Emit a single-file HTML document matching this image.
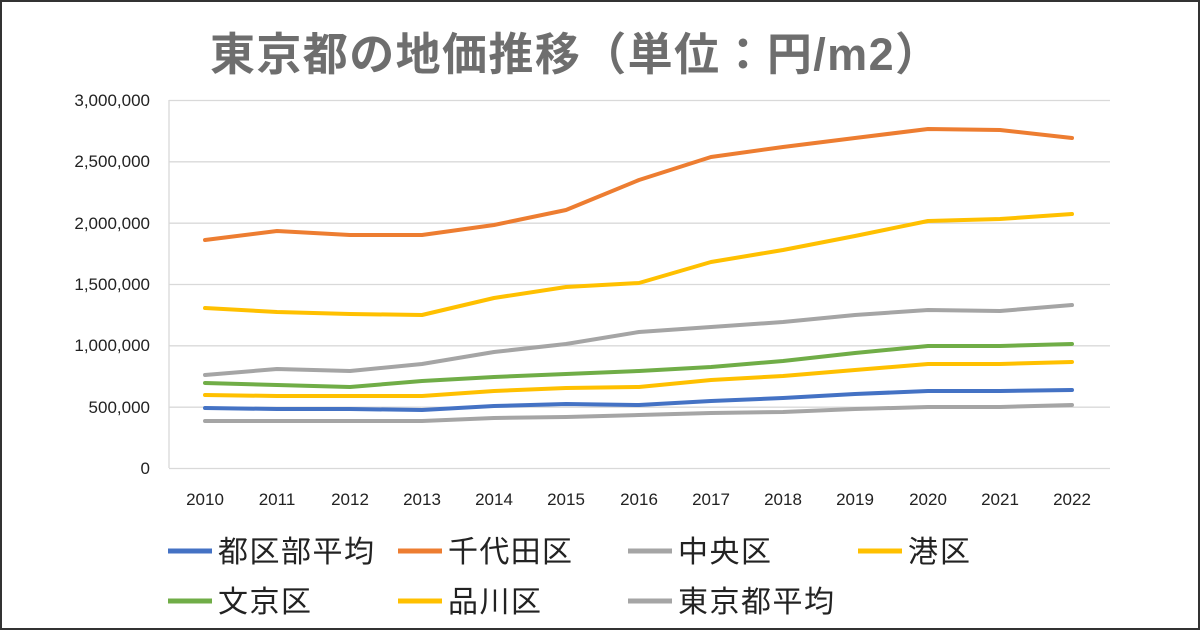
<!DOCTYPE html>
<html><head><meta charset="utf-8"><style>
body{margin:0;width:1200px;height:630px;background:#fff;overflow:hidden}
svg text{font-family:"Liberation Sans","Noto Sans CJK JP",sans-serif}
</style></head><body>
<svg width="1200" height="630" viewBox="0 0 1200 630">
<rect x="1" y="1" width="1198" height="628" fill="#fff" stroke="#333" stroke-width="2"/>
<text x="210" y="70" font-size="45" font-weight="bold" fill="#6e6e6e" textLength="730" lengthAdjust="spacing">東京都の地価推移（単位：円/m2）</text>
<g stroke="#d9d9d9" stroke-width="1.3">
<line x1="169" x2="1110" y1="100.5" y2="100.5"/><line x1="169" x2="1110" y1="161.8" y2="161.8"/>
<line x1="169" x2="1110" y1="223.2" y2="223.2"/><line x1="169" x2="1110" y1="284.5" y2="284.5"/>
<line x1="169" x2="1110" y1="345.8" y2="345.8"/><line x1="169" x2="1110" y1="407.2" y2="407.2"/>
<line x1="169" x2="1110" y1="468.5" y2="468.5"/><line x1="169" x2="169" y1="100" y2="468"/>
</g>
<g font-size="17" fill="#222" text-anchor="end">
<text x="150" y="106">3,000,000</text><text x="150" y="167">2,500,000</text><text x="150" y="229">2,000,000</text>
<text x="150" y="290">1,500,000</text><text x="150" y="351">1,000,000</text><text x="150" y="413">500,000</text><text x="150" y="474">0</text>
</g>
<g font-size="17" fill="#222" text-anchor="middle">
<text x="205" y="505">2010</text><text x="277" y="505">2011</text><text x="350" y="505">2012</text><text x="422" y="505">2013</text><text x="494" y="505">2014</text><text x="566" y="505">2015</text><text x="639" y="505">2016</text><text x="711" y="505">2017</text><text x="783" y="505">2018</text><text x="855" y="505">2019</text><text x="928" y="505">2020</text><text x="1000" y="505">2021</text><text x="1072" y="505">2022</text>
</g>
<g fill="none" stroke-width="4" stroke-linejoin="round" stroke-linecap="round">
<polyline stroke="#a5a5a5" points="205,421 277,421 350,421 422,421 494,418 566,417 639,415 711,413 783,412 855,409 928,407 1000,407 1072,405"/>
<polyline stroke="#4472c4" points="205,408 277,409 350,409 422,410 494,406 566,404 639,405 711,401 783,398 855,394 928,391 1000,391 1072,390"/>
<polyline stroke="#ffc000" points="205,395 277,396 350,396 422,396 494,391 566,388 639,387 711,380 783,376 855,370 928,364 1000,364 1072,362"/>
<polyline stroke="#70ad47" points="205,383 277,385 350,387 422,381 494,377 566,374 639,371 711,367 783,361 855,353 928,346 1000,346 1072,344"/>
<polyline stroke="#a5a5a5" points="205,375 277,369 350,371 422,364 494,352 566,344 639,332 711,327 783,322 855,315 928,310 1000,311 1072,305"/>
<polyline stroke="#ffc000" points="205,308 277,312 350,314 422,315 494,298 566,287 639,283 711,262 783,250 855,236 928,221 1000,219 1072,214"/>
<polyline stroke="#ed7d31" points="205,240 277,231 350,235 422,235 494,225 566,210 639,180 711,157 783,147 855,138 928,129 1000,130 1072,138"/>
</g>
<g stroke-width="5">
<line x1="168" x2="212" y1="551" y2="551" stroke="#4472c4"/>
<line x1="398" x2="442" y1="551" y2="551" stroke="#ed7d31"/>
<line x1="628" x2="672" y1="551" y2="551" stroke="#a5a5a5"/>
<line x1="858" x2="902" y1="551" y2="551" stroke="#ffc000"/>
<line x1="168" x2="212" y1="601" y2="601" stroke="#70ad47"/>
<line x1="398" x2="442" y1="601" y2="601" stroke="#ffc000"/>
<line x1="628" x2="672" y1="601" y2="601" stroke="#a5a5a5"/>
</g>
<g font-size="30" fill="#222" lengthAdjust="spacing">
<text x="218" y="562" textLength="156">都区部平均</text><text x="448" y="562" textLength="124">千代田区</text><text x="678" y="562" textLength="93">中央区</text><text x="908" y="562" textLength="62">港区</text>
<text x="218" y="612" textLength="93">文京区</text><text x="448" y="612" textLength="93">品川区</text><text x="678" y="612" textLength="156">東京都平均</text>
</g>
</svg>
</body></html>
